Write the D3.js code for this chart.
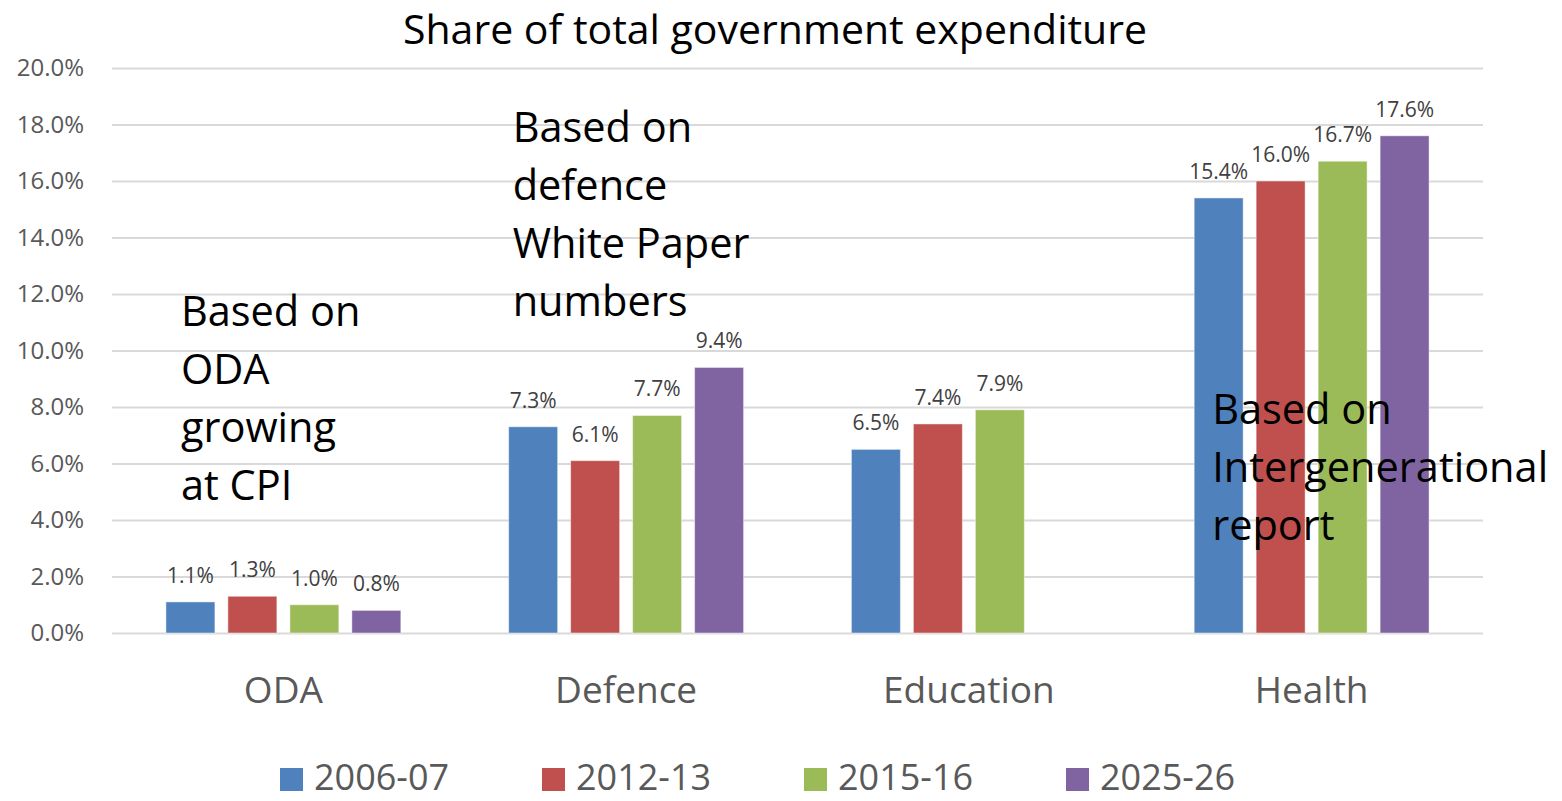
<!DOCTYPE html>
<html>
<head>
<meta charset="utf-8">
<script src="https://cdn.jsdelivr.net/npm/d3@7"></script>
<style>
  body { margin: 0; background: #fff; }
  svg { display: block; font-family: "Open Sans", sans-serif; }
</style>
</head>
<body>
<svg></svg>
<script>
const CATEGORIES = ['ODA', 'Defence', 'Education', 'Health'];
const SERIES = ['2006-07', '2012-13', '2015-16', '2025-26'];
const COLORS = ['#4F81BD', '#C0504D', '#9BBB59', '#8064A2'];

// one array per series, in category order (null = no bar)
const VALUES_2006 = [1.1, 7.3, 6.5, 15.4];
const VALUES_2012 = [1.3, 6.1, 7.4, 16.0];
const VALUES_2015 = [1.0, 7.7, 7.9, 16.7];
const VALUES_2025 = [0.8, 9.4, null, 17.6];
const SERIES_VALUES = [VALUES_2006, VALUES_2012, VALUES_2015, VALUES_2025];

const Y_TICKS = [0, 2, 4, 6, 8, 10, 12, 14, 16, 18, 20];

const NOTE_LINES = [
    ['Based on', 'ODA', 'growing', 'at CPI'],
    ['Based on', 'defence', 'White Paper', 'numbers'],
    ['Based on', 'Intergenerational', 'report'],
];
const NOTE_CATEGORIES = ['ODA', 'Defence', 'Health'];

const WIDTH = 1562;
const HEIGHT = 801;
const PLOT = { left: 112, right: 1483, top: 68, bottom: 633 };

const svg = d3.select("svg")
    .attr("width", WIDTH)
    .attr("height", HEIGHT);

const x0 = d3.scaleBand()
    .domain(CATEGORIES)
    .range([PLOT.left, PLOT.right]);

const x1 = d3.scaleBand()
    .domain(SERIES)
    .range([0, x0.bandwidth()])
    .paddingInner(0.21)
    .paddingOuter(0.87);

const y = d3.scaleLinear()
    .domain([0, 20])
    .range([PLOT.bottom, PLOT.top]);

// title
svg.append("text")
    .attr("x", 775)
    .attr("y", 44)
    .attr("text-anchor", "middle")
    .attr("font-size", 41)
    .attr("fill", "#000")
    .text("Share of total government expenditure");

// gridlines + y labels
const yAxis = svg.append("g")
    .attr("transform", `translate(${PLOT.left},0)`)
    .call(d3.axisLeft(y)
        .tickValues(Y_TICKS)
        .tickSize(-(PLOT.right - PLOT.left))
        .tickPadding(28)
        .tickFormat(d => d.toFixed(1) + "%"));
yAxis.select(".domain").remove();
yAxis.selectAll(".tick line").attr("stroke", "#D9D9D9").attr("stroke-width", 2);
yAxis.selectAll(".tick text")
    .attr("font-size", 24)
    .attr("fill", "#595959")
    .attr("font-family", "Open Sans, sans-serif");

// x category labels
const xAxis = svg.append("g")
    .attr("transform", `translate(0,${PLOT.bottom})`)
    .call(d3.axisBottom(x0).tickSize(0).tickPadding(0));
xAxis.select(".domain").remove();
xAxis.selectAll(".tick text")
    .attr("dy", 0)
    .attr("y", 70)
    .attr("font-size", 37)
    .attr("fill", "#595959")
    .attr("font-family", "Open Sans, sans-serif");

// bars
const barData = [];
SERIES.forEach((s, si) => {
    CATEGORIES.forEach((c, ci) => {
        const v = SERIES_VALUES[si][ci];
        if (v !== null) barData.push({ series: s, si, category: c, value: v });
    });
});

const groups = svg.append("g");
groups.selectAll(".bar")
    .data(barData)
    .enter()
    .append("rect")
    .classed("bar", true)
    .attr("x", d => x0(d.category) + x1(d.series))
    .attr("y", d => y(d.value))
    .attr("width", x1.bandwidth())
    .attr("height", d => y(0) - y(d.value))
    .attr("fill", d => COLORS[d.si])
    .attr("stroke", "rgba(255,255,255,0.45)")
    .attr("stroke-width", 1);

groups.selectAll(".label")
    .data(barData)
    .enter()
    .append("text")
    .classed("label", true)
    .attr("x", d => x0(d.category) + x1(d.series) + x1.bandwidth() / 2)
    .attr("y", d => y(d.value) - 19)
    .attr("text-anchor", "middle")
    .attr("font-size", 21)
    .attr("fill", "#404040")
    .text(d => d.value.toFixed(1) + "%");

// annotations (text boxes laid over the plot)
const noteX = [15, 4, 18];       // offset from the first bar of the group
const noteTop = [326, 142, 424]; // first baseline
NOTE_LINES.forEach((lines, ni) => {
    const left = x0(NOTE_CATEGORIES[ni]) + x1(SERIES[0]) + noteX[ni];
    const t = svg.append("text")
        .attr("x", left)
        .attr("y", noteTop[ni])
        .attr("font-size", 41.5)
        .attr("fill", "#000");
    lines.forEach((line, i) => {
        t.append("tspan")
            .attr("x", left)
            .attr("dy", i === 0 ? 0 : 58)
            .text(line);
    });
});

// legend
const legend = svg.append("g")
    .attr("transform", "translate(280,768)");
const item = legend.selectAll(".legend-item")
    .data(SERIES)
    .enter()
    .append("g")
    .attr("transform", (d, i) => `translate(${i * 262},0)`);
item.append("rect")
    .attr("width", 23)
    .attr("height", 23)
    .attr("fill", (d, i) => COLORS[i]);
item.append("text")
    .attr("x", 34)
    .attr("y", 22)
    .attr("font-size", 36)
    .attr("fill", "#595959")
    .text(d => d);
</script>
</body>
</html>
